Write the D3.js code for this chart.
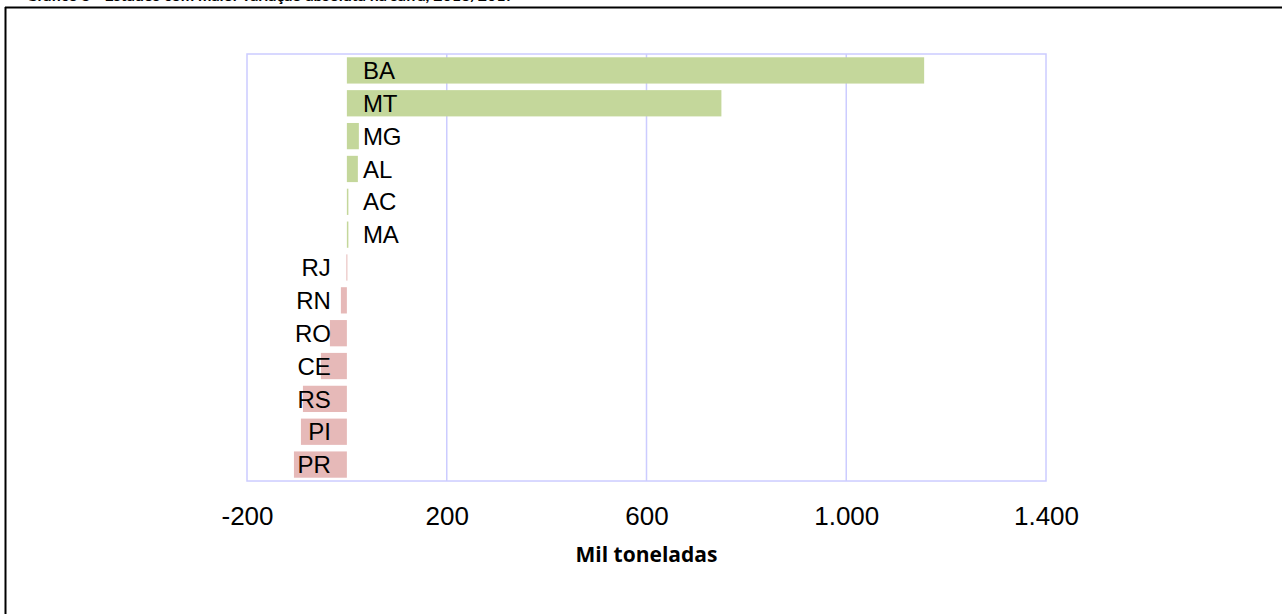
<!DOCTYPE html>
<html>
<head>
<meta charset="utf-8">
<script src="https://cdn.jsdelivr.net/npm/d3@7"></script>
<style>
  html, body { margin: 0; padding: 0; background: #ffffff; overflow: hidden; }
  svg { display: block; }
</style>
</head>
<body>
<svg id="chart" width="1282" height="614"></svg>
<script>
const categories = ["BA", "MT", "MG", "AL", "AC", "MA", "RJ", "RN", "RO", "CE", "RS", "PI", "PR"];
const values = [1156, 750, 24, 22, 3, 3, -1, -12, -34, -52, -88, -92, -106];
const tickValues = [-200, 200, 600, 1000, 1400];
const tickLabels = ["-200", "200", "600", "1.000", "1.400"];
const gridValues = [200, 600, 1000];
const axisTitle = "Mil toneladas";
const chartTitle = "Gráfico 5 - Estados com maior variação absoluta na safra, 2016/2017";

(function () {
const svg = d3.select("#chart");

// outer frame (top and left rules)
svg.append("line").attr("x1", 5).attr("x2", 1282).attr("y1", 7.5).attr("y2", 7.5)
  .attr("stroke", "#000").attr("stroke-width", 2);
svg.append("line").attr("x1", 5.5).attr("x2", 5.5).attr("y1", 7).attr("y2", 614)
  .attr("stroke", "#000").attr("stroke-width", 2);

// title, cut off at the top edge as in the source image
svg.append("text").attr("x", 26).attr("y", 0.5)
  .attr("font-family", "Lato, 'Open Sans', sans-serif").attr("font-weight", "bold")
  .attr("font-size", 16).attr("fill", "#000")
  .text(chartTitle);

const pLeft = 247, pRight = 1046, pTop = 54, pBottom = 481;

const x = d3.scaleLinear().domain([-200, 1400]).range([pLeft, pRight]);
const y = d3.scaleBand().domain(categories).range([pTop, pBottom]).paddingInner(0.2).paddingOuter(0.1);

const gridColor = "#ccccff";

// grid lines
svg.append("g").selectAll("line").data(gridValues).join("line")
  .attr("x1", d => x(d)).attr("x2", d => x(d))
  .attr("y1", pTop).attr("y2", pBottom)
  .attr("stroke", gridColor).attr("stroke-width", 1.5);

// plot border
svg.append("rect").attr("x", pLeft).attr("y", pTop)
  .attr("width", pRight - pLeft).attr("height", pBottom - pTop)
  .attr("fill", "none").attr("stroke", gridColor).attr("stroke-width", 1.5);

// bars
svg.append("g").selectAll("rect").data(categories).join("rect")
  .attr("x", (d, i) => x(Math.min(0, values[i])))
  .attr("y", d => y(d))
  .attr("width", (d, i) => Math.max(1, Math.abs(x(values[i]) - x(0))))
  .attr("height", y.bandwidth())
  .attr("fill", (d, i) => values[i] >= 0 ? "#c4d79b" : "#e6b9b8");

// category labels
svg.append("g").selectAll("text").data(categories).join("text")
  .attr("x", (d, i) => values[i] >= 0 ? x(0) + 16 : x(0) - 16)
  .attr("y", d => y(d) + y.bandwidth() / 2)
  .attr("dy", "0.36em")
  .attr("text-anchor", (d, i) => values[i] >= 0 ? "start" : "end")
  .attr("font-family", "'Liberation Sans', Arial, sans-serif")
  .attr("font-size", 24).attr("fill", "#000")
  .text(d => d);

// x axis tick labels
const xAxis = d3.axisBottom(x).tickValues(tickValues)
  .tickFormat((d, i) => tickLabels[i]).tickSize(0).tickPadding(0);
const gx = svg.append("g").attr("transform", "translate(0, 505)").call(xAxis);
gx.select(".domain").remove();
gx.selectAll("text")
  .attr("font-family", "'Liberation Sans', Arial, sans-serif")
  .attr("font-size", 26).attr("fill", "#000")
  .attr("dy", null).attr("y", 19.5);

// axis title
svg.append("text").attr("x", x(600)).attr("y", 562)
  .attr("text-anchor", "middle")
  .attr("font-family", "'Open Sans', Lato, sans-serif").attr("font-weight", "bold")
  .attr("font-size", 21).attr("fill", "#000")
  .text(axisTitle);
})();
</script>
</body>
</html>
